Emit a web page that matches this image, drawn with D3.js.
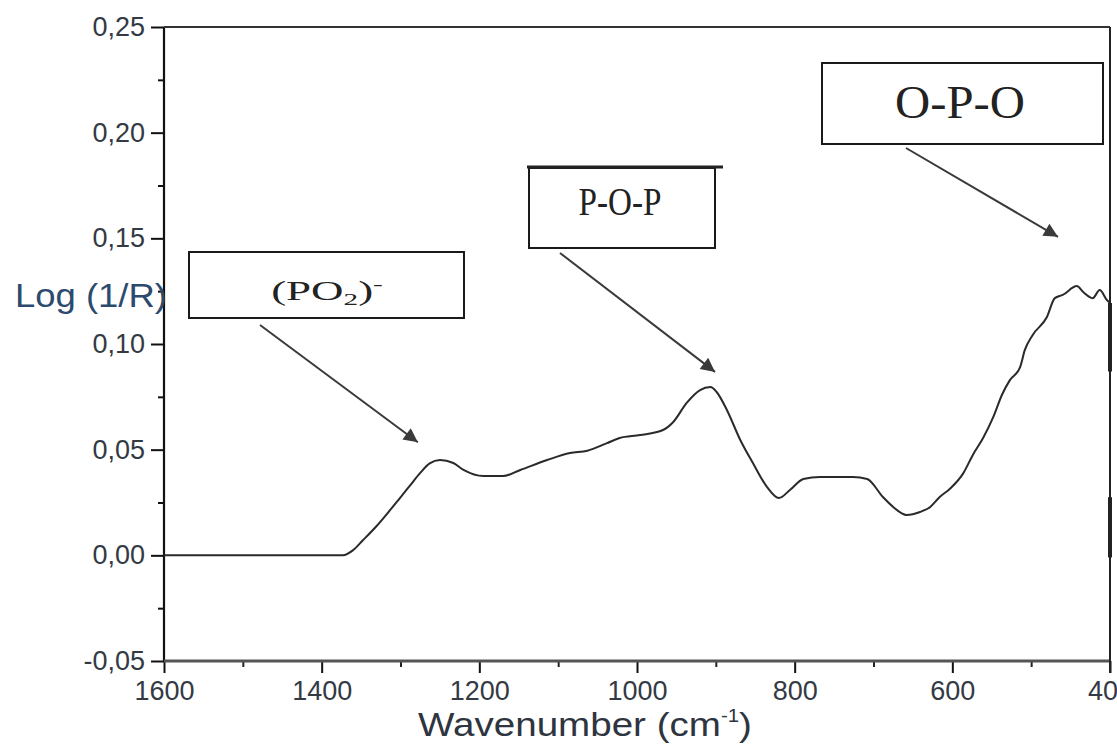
<!DOCTYPE html>
<html>
<head>
<meta charset="utf-8">
<script src="https://cdn.jsdelivr.net/npm/d3@7"></script>
<style>
  body { margin: 0; background: #fff; }
  svg { display: block; }
</style>
</head>
<body>
<svg id="chart" width="1117" height="753"></svg>
<script>
// Reflectance spectrum, Log(1/R) against wavenumber (cm-1)
const wavenumber = [
  1600, 1373, 1360, 1348, 1330, 1313, 1301, 1288, 1275, 1263, 1250, 1233, 1220,
  1195, 1170, 1148, 1114, 1085, 1063, 1038, 1022, 996, 967, 954, 937, 920, 907,
  899, 886, 869, 853, 835, 820, 806, 789, 768, 726, 708, 688, 675, 658, 641, 628,
  616, 603, 586, 574, 561, 548, 537, 527, 514, 508, 498, 480, 470, 460, 442, 434,
  422, 413, 404, 400
];
const logInvR = [
  0.0, 0.0, 0.0025, 0.0070, 0.0140, 0.0215, 0.0270, 0.0330, 0.0390, 0.0435, 0.0451, 0.0437, 0.0404,
  0.0375, 0.0375, 0.0404, 0.0451, 0.0484, 0.0495, 0.0531, 0.0555, 0.0569, 0.0593, 0.0631, 0.0721, 0.0782, 0.0796,
  0.0773, 0.0688, 0.0546, 0.0437, 0.0323, 0.0271, 0.0309, 0.0361, 0.0371, 0.0371, 0.0361, 0.0276, 0.0229, 0.0191, 0.0205, 0.0229,
  0.0276, 0.0315, 0.0389, 0.0475, 0.0555, 0.0655, 0.0760, 0.0829, 0.0891, 0.0972, 0.1043, 0.1128, 0.1217, 0.1232, 0.1274, 0.1246,
  0.1217, 0.1255, 0.1208, 0.1194
];

const xTicks = [1600, 1400, 1200, 1000, 800, 600, 400];
const xMinorTicks = [1500, 1300, 1100, 900, 700, 500];
const yTicks = [-0.05, 0.0, 0.05, 0.10, 0.15, 0.20, 0.25];
const yMinorTicks = [-0.025, 0.025, 0.075, 0.125, 0.175, 0.225];
const yTickLabels = ["-0,05", "0,00", "0,05", "0,10", "0,15", "0,20", "0,25"];

// Band assignments and the spectrum point each arrow indicates
const bandNames = ["(PO2)-", "P-O-P", "O-P-O"];
const bandWavenumber = [1278, 901, 466];
const bandValue = [0.0535, 0.0868, 0.1507];

const svg = d3.select("#chart");
svg.append("rect").attr("width", 1117).attr("height", 753).attr("fill", "#fff");

const plotLeft = 164, plotRight = 1110, plotTop = 27, plotBottom = 661;
const x = d3.scaleLinear().domain([1600, 400]).range([plotLeft, plotRight]);
const y = d3.scaleLinear().domain([-0.05, 0.25]).range([plotBottom, plotTop]);

const labelFont = "'Liberation Sans', Arial, sans-serif";
const tickColor = "#333a44";

// Y axis (major + minor ticks)
const yAxis = svg.append("g").attr("transform", `translate(${plotLeft},0)`)
  .call(d3.axisLeft(y).tickValues(yTicks).tickSize(13).tickPadding(6)
    .tickFormat((d, i) => yTickLabels[i]));
yAxis.select(".domain").remove();
yAxis.selectAll(".tick line").attr("stroke", "#111").attr("stroke-width", 2);
yAxis.selectAll(".tick text").attr("font-family", labelFont).attr("font-size", 27)
  .attr("fill", tickColor);

const yMinor = svg.append("g").attr("transform", `translate(${plotLeft},0)`)
  .call(d3.axisLeft(y).tickValues(yMinorTicks).tickSize(6).tickFormat(""));
yMinor.select(".domain").remove();
yMinor.selectAll(".tick line").attr("stroke", "#111").attr("stroke-width", 2);

// X axis (major + minor ticks)
const xAxis = svg.append("g").attr("transform", `translate(0,${plotBottom})`)
  .call(d3.axisBottom(x).tickValues(xTicks).tickSize(12).tickPadding(8).tickFormat(d3.format("d")));
xAxis.select(".domain").remove();
xAxis.selectAll(".tick line").attr("stroke", "#111").attr("stroke-width", 2);
xAxis.selectAll(".tick text").attr("font-family", labelFont).attr("font-size", 27)
  .attr("fill", tickColor);

const xMinor = svg.append("g").attr("transform", `translate(0,${plotBottom})`)
  .call(d3.axisBottom(x).tickValues(xMinorTicks).tickSize(6).tickFormat(""));
xMinor.select(".domain").remove();
xMinor.selectAll(".tick line").attr("stroke", "#222").attr("stroke-width", 2);

// Frame
svg.append("line").attr("x1", plotLeft).attr("x2", plotLeft).attr("y1", plotTop).attr("y2", plotBottom)
  .attr("stroke", "#111").attr("stroke-width", 2.2);
svg.append("line").attr("x1", plotLeft).attr("x2", plotRight).attr("y1", plotBottom).attr("y2", plotBottom)
  .attr("stroke", "#555").attr("stroke-width", 3);
svg.append("line").attr("x1", plotLeft).attr("x2", plotRight).attr("y1", plotTop).attr("y2", plotTop)
  .attr("stroke", "#333").attr("stroke-width", 2);
svg.append("line").attr("x1", plotRight).attr("x2", plotRight).attr("y1", plotTop).attr("y2", plotBottom + 12)
  .attr("stroke", "#222").attr("stroke-width", 2);
// heavier stretches along the right edge
[[0.1194, 0.0870], [0.0275, -0.0010]].forEach(([a, b]) => {
  svg.append("line").attr("x1", plotRight).attr("x2", plotRight)
    .attr("y1", y(a)).attr("y2", y(b))
    .attr("stroke", "#222").attr("stroke-width", 4);
});

// Spectrum
const pts = wavenumber.map((w, i) => [w, logInvR[i]]);
svg.append("path").datum(pts)
  .attr("fill", "none").attr("stroke", "#2a2a2a").attr("stroke-width", 2)
  .attr("stroke-linejoin", "round")
  .attr("d", d3.line().x(d => x(d[0])).y(d => y(d[1])).curve(d3.curveMonotoneX));

// Axis titles, stretched to their drawn widths
function fitWidth(sel, cx, baseline, width, anchor) {
  sel.attr("text-anchor", anchor);
  const w = sel.node().getBBox().width;
  const sx = width / w;
  sel.attr("transform", `translate(${cx},${baseline}) scale(${sx},1)`);
}

const yTitle = svg.append("text").attr("font-family", labelFont).attr("font-size", 33)
  .attr("fill", "#2c4a6e").text("Log (1/R)");
fitWidth(yTitle, 15, 307, 152, "start");

const xTitle = svg.append("text").attr("font-family", labelFont).attr("font-size", 34)
  .attr("fill", "#2e3440");
xTitle.append("tspan").text("Wavenumber (cm");
xTitle.append("tspan").attr("font-size", 18).attr("dy", -14).text("-1");
xTitle.append("tspan").attr("dy", 14).text(")");
fitWidth(xTitle, 418, 736, 334, "start");

// Band annotation boxes and arrows
const defs = svg.append("defs");
defs.append("marker").attr("id", "head").attr("viewBox", "0 0 10 10")
  .attr("refX", 10).attr("refY", 5).attr("markerWidth", 9).attr("markerHeight", 7)
  .attr("markerUnits", "strokeWidth").attr("orient", "auto")
  .append("path").attr("d", "M0,0 L10,5 L0,10 Z").attr("fill", "#3a3a3a");

const boxes = [
  { x: 189, y: 252, w: 275, h: 66, tx: 327, tb: 300, fs: 27, tw: 112, tail: [260, 325] },
  { x: 529, y: 168, w: 186, h: 80, tx: 620, tb: 215, fs: 41, tw: 83, tail: [560, 253] },
  { x: 822, y: 63, w: 281, h: 81, tx: 960, tb: 118, fs: 46, tw: 130, tail: [906, 148] }
];
const serif = "'Liberation Serif', 'Times New Roman', serif";

boxes.forEach((b, i) => {
  svg.append("rect").attr("x", b.x).attr("y", b.y).attr("width", b.w).attr("height", b.h)
    .attr("fill", "#fff").attr("stroke", "#1a1a1a").attr("stroke-width", 2);
  const t = svg.append("text").attr("font-family", serif).attr("font-size", b.fs)
    .attr("fill", "#222");
  if (i === 0) {
    t.append("tspan").text("(PO");
    t.append("tspan").attr("font-size", b.fs * 0.65).attr("dy", 5).text("2");
    t.append("tspan").attr("dy", -5).text(")");
    t.append("tspan").attr("font-size", b.fs * 0.65).attr("dy", -10).text("-");
  } else {
    t.text(bandNames[i]);
  }
  fitWidth(t, b.tx, b.tb, b.tw, "middle");

  svg.append("line")
    .attr("x1", b.tail[0]).attr("y1", b.tail[1])
    .attr("x2", x(bandWavenumber[i])).attr("y2", y(bandValue[i]))
    .attr("stroke", "#3a3a3a").attr("stroke-width", 2)
    .attr("marker-end", "url(#head)");
});
// heavy rule over the P-O-P box
svg.append("line").attr("x1", 527).attr("x2", 723).attr("y1", 167).attr("y2", 167)
  .attr("stroke", "#222").attr("stroke-width", 3);
</script>
</body>
</html>
